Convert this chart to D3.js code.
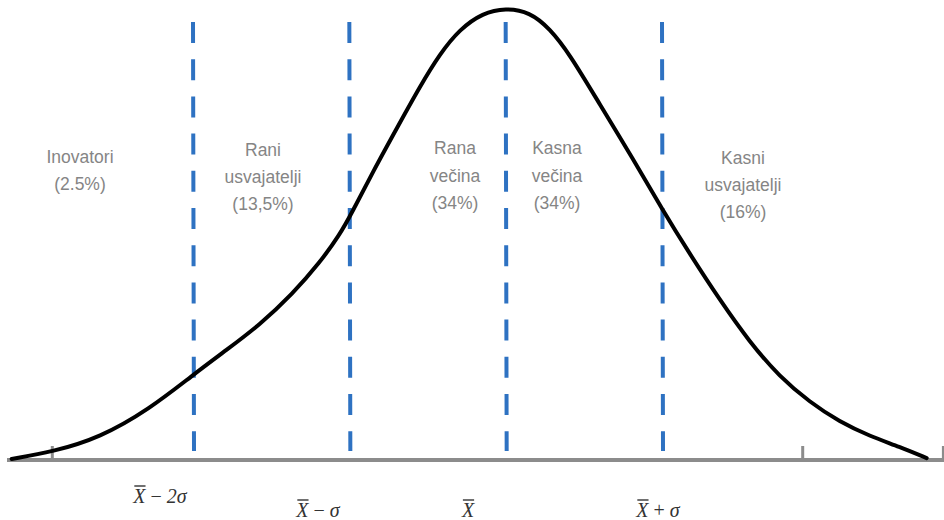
<!DOCTYPE html>
<html>
<head>
<meta charset="utf-8">
<script src="https://cdn.jsdelivr.net/npm/d3@7"></script>
<style>
  body { margin: 0; background: #fff; }
  svg { display: block; }
  .seg-label { font-family: "Liberation Sans", Arial, sans-serif; font-size: 17.5px; fill: #858585; }
  .ax-label { font-family: "Liberation Serif", "DejaVu Serif", serif; font-size: 20px; fill: #333; }
</style>
</head>
<body>
<svg id="chart" width="944" height="520"></svg>
<script>
// curve: x in sigma units from the mean, y as share of peak height
var curveX = [-3.16, -2.898, -2.597, -2.277, -2.002, -1.785, -1.574, -1.363, -1.19, -1.062, -0.985,
              -0.851, -0.678, -0.55, -0.422, -0.294, -0.147, 0,
              0.154, 0.281, 0.409, 0.601, 0.812, 1.004, 1.177, 1.369, 1.561, 1.753, 1.945,
              2.137, 2.328, 2.52, 2.693];
var curveY = [0, 0.016, 0.047, 0.111, 0.186, 0.242, 0.297, 0.366, 0.435, 0.497, 0.545,
              0.636, 0.745, 0.825, 0.898, 0.953, 0.989, 1.0,
              0.991, 0.955, 0.898, 0.787, 0.667, 0.552, 0.455, 0.353, 0.259, 0.182, 0.126,
              0.082, 0.051, 0.027, 0.002];

// segment boundaries (dashed lines)
var boundaries = [-2, -1, 0, 1];

// plain axis ticks
var tickValues = [-2.9, 1.9, 2.8];

// segment labels
var segments = [
  ["Inovatori", "(2.5%)"],
  ["Rani", "usvajatelji", "(13,5%)"],
  ["Rana", "večina", "(34%)"],
  ["Kasna", "večina", "(34%)"],
  ["Kasni", "usvajatelji", "(16%)"]
];

// axis labels: [operator, term]
var axisLabels = [["−", "2σ"], ["−", "σ"], ["", ""], ["+", "σ"]];

var svg = d3.select("#chart");

var x = d3.scaleLinear().domain([-2, 1]).range([193, 662]);
var y = d3.scaleLinear().domain([0, 1]).range([459, 8]);
var axisY = y(0) + 1;

// baseline axis
svg.append("line")
  .attr("x1", 7).attr("x2", 944)
  .attr("y1", axisY).attr("y2", axisY)
  .attr("stroke", "#8c8c8c").attr("stroke-width", 4);

svg.selectAll(".tick").data(tickValues).enter().append("line")
  .attr("class", "tick")
  .attr("x1", function(d){ return x(d); }).attr("x2", function(d){ return x(d); })
  .attr("y1", axisY - 14).attr("y2", axisY)
  .attr("stroke", "#8c8c8c").attr("stroke-width", 3);

// dashed boundaries
svg.selectAll(".bound").data(boundaries).enter().append("line")
  .attr("class", "bound")
  .attr("x1", function(d){ return x(d); }).attr("x2", function(d){ return x(d) + 1; })
  .attr("y1", 22).attr("y2", 451)
  .attr("stroke", "#2e72c2").attr("stroke-width", 4)
  .attr("stroke-dasharray", "21,16.2");

// bell curve
var pts = curveX.map(function(d, i){ return [d, curveY[i]]; });
var line = d3.line()
  .x(function(d){ return x(d[0]); })
  .y(function(d){ return y(d[1]); })
  .curve(d3.curveBasis);

svg.append("path")
  .datum(pts)
  .attr("d", line)
  .attr("fill", "none")
  .attr("stroke", "#000")
  .attr("stroke-width", 4)
  .attr("stroke-linecap", "round");

// label layout
var labelX = [80, 263, 455, 557, 743];
var labelBase = [[163, 190], [156, 183, 210], [154, 182, 209], [154, 182, 209], [164, 191, 218]];

segments.forEach(function(lines, i){
  var t = svg.append("text").attr("class", "seg-label").attr("text-anchor", "middle");
  lines.forEach(function(s, j){
    t.append("tspan").attr("x", labelX[i]).attr("y", labelBase[i][j]).text(s);
  });
});

// axis labels under the boundaries
var axLabelX = [160, 318, 468, 658];
var axLabelBase = [503, 517, 517, 517];

axisLabels.forEach(function(d, i){
  var t = svg.append("text").attr("class", "ax-label")
    .attr("x", axLabelX[i]).attr("y", axLabelBase[i]).attr("text-anchor", "middle");
  var xs = t.append("tspan").attr("font-style", "italic").text("X");
  if (d[0]) {
    t.append("tspan").text(" " + d[0] + " ");
    t.append("tspan").attr("font-style", "italic").text(d[1]);
  }
  // overbar above the X
  var full = t.node().getBBox();
  var xw = xs.node().getComputedTextLength();
  svg.append("line")
    .attr("x1", full.x + 2).attr("x2", full.x + xw + 1)
    .attr("y1", axLabelBase[i] - 17).attr("y2", axLabelBase[i] - 17)
    .attr("stroke", "#333").attr("stroke-width", 1.4);
});
</script>
</body>
</html>
